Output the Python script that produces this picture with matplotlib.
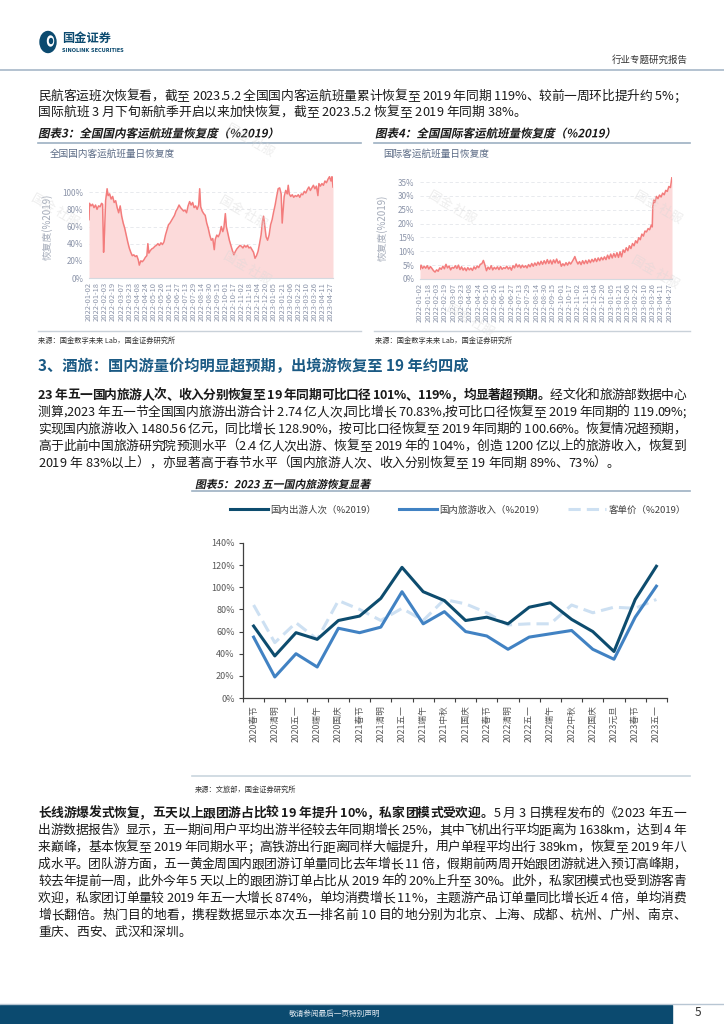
import matplotlib
matplotlib.use('Agg')
import matplotlib.pyplot as plt
import numpy as np
from matplotlib.font_manager import FontProperties
from matplotlib.patches import Rectangle, Ellipse, PathPatch
from matplotlib.textpath import TextPath
from matplotlib.transforms import Affine2D
from matplotlib.lines import Line2D

plt.rcParams['font.family'] = ['Noto Sans CJK SC', 'DejaVu Sans']

# ---------------- data ----------------
# domestic flights, % of 2019 (day offset from 2022-01-02)
dom_day = [0, 1, 4, 7, 10, 13, 16, 19, 22, 25, 27, 29, 31, 33, 36, 38, 41, 44, 47, 50,
           53, 56, 59, 62, 65, 68, 71, 74, 77, 80, 83, 86, 89, 92, 95, 98, 100, 103, 106, 109,
           112, 115, 117, 119, 122, 125, 128, 131, 134, 137, 140, 143, 146, 149, 152, 155, 158, 161, 164, 167,
           170, 173, 176, 179, 182, 185, 188, 191, 194, 197, 200, 203, 206, 209, 212, 215, 218, 220, 222, 225,
           228, 231, 234, 237, 240, 243, 246, 249, 251, 254, 257, 260, 263, 266, 268, 271, 273, 276, 279, 282,
           285, 288, 291, 294, 297, 300, 303, 306, 309, 312, 315, 318, 321, 324, 327, 330, 333, 336, 339, 342,
           345, 347, 349, 352, 355, 358, 361, 364, 367, 370, 373, 376, 379, 382, 384, 386, 388, 391, 394, 396,
           398, 401, 404, 407, 410, 413, 416, 419, 422, 425, 428, 431, 434, 437, 440, 443, 446, 449, 452, 455,
           457, 460, 463, 466, 469, 472, 475, 478, 481, 483, 485]
dom_val = [68, 87, 84, 86, 82, 85, 80, 84, 83, 87, 86, 30, 55, 90, 104, 96, 98, 92, 95, 88,
           90, 82, 76, 84, 72, 64, 58, 50, 42, 35, 30, 26, 27, 25, 26, 21, 15, 20, 19, 21,
           24, 26, 40, 29, 32, 34, 35, 37, 38, 40, 38, 41, 39, 42, 50, 56, 62, 64, 67, 70,
           73, 78, 81, 85, 82, 80, 78, 79, 76, 84, 89, 85, 88, 82, 84, 80, 85, 104, 83, 78,
           75, 73, 64, 58, 50, 44, 46, 33, 45, 50, 48, 52, 60, 54, 58, 75, 60, 52, 44, 38,
           32, 27, 31, 34, 36, 38, 37, 35, 38, 36, 38, 35, 36, 33, 30, 23, 26, 31, 40, 50,
           67, 72, 62, 48, 44, 50, 62, 68, 77, 85, 95, 104, 105, 98, 64, 80, 95, 102, 98, 108,
           98, 95, 97, 94, 96, 95, 97, 94, 98, 97, 101, 99, 103, 106, 102, 105, 108, 104, 107, 96,
           110, 107, 110, 108, 113, 111, 115, 118, 113, 118, 106]

# international flights, % of 2019
intl_day = [0, 2, 5, 8, 11, 14, 17, 20, 23, 26, 29, 32, 35, 38, 41, 44, 47, 50, 53, 56,
            59, 62, 65, 68, 71, 74, 77, 80, 83, 86, 89, 92, 95, 98, 101, 104, 107, 110, 113, 116,
            119, 122, 125, 128, 131, 134, 137, 140, 143, 146, 149, 152, 155, 158, 161, 164, 167, 170, 173, 176,
            179, 182, 185, 188, 191, 194, 197, 200, 203, 206, 209, 212, 215, 218, 221, 224, 227, 230, 233, 236,
            239, 242, 245, 248, 251, 254, 257, 260, 263, 266, 269, 272, 275, 278, 281, 284, 287, 290, 293, 296,
            298, 301, 304, 307, 310, 313, 316, 319, 322, 325, 328, 331, 334, 337, 340, 343, 346, 349, 352, 355,
            358, 361, 364, 367, 370, 373, 376, 379, 382, 385, 388, 391, 394, 397, 400, 403, 406, 409, 412, 415,
            418, 421, 424, 427, 430, 433, 436, 439, 442, 445, 447, 448, 450, 452, 455, 458, 461, 464, 467, 470,
            473, 476, 479, 482, 485]
intl_val = [3.5, 5.0, 3.8, 4.6, 3.9, 4.8, 3.6, 4.5, 3.8, 3.0, 2.5, 3.3, 2.8, 4.0, 3.5, 4.6, 3.7, 5.3, 4.0, 4.7,
            3.3, 4.2, 3.9, 4.8, 3.8, 5.0, 3.4, 4.4, 3.2, 4.0, 3.0, 4.1, 3.3, 3.9, 3.1, 4.4, 3.6, 4.7, 4.1, 5.3,
            5.5, 6.7, 5.0, 3.0, 4.3, 3.5, 4.8, 3.3, 4.2, 3.6, 4.4, 3.4, 4.5, 3.5, 4.1, 3.8, 4.6, 3.6, 4.3, 3.2,
            4.8, 4.0, 5.4, 4.3, 5.1, 4.0, 5.0, 4.2, 4.8, 4.0, 5.2, 4.4, 5.6, 4.6, 5.8, 4.9, 6.1, 5.1, 6.4, 5.3,
            6.6, 5.5, 7.0, 5.6, 6.8, 5.4, 6.9, 5.8, 7.2, 5.7, 6.5, 4.6, 5.5, 4.8, 5.9, 5.0, 6.1, 5.4, 6.3, 7.3,
            8.1, 6.5, 5.4, 6.3, 5.2, 6.6, 5.5, 6.7, 5.6, 6.9, 5.9, 7.1, 6.2, 7.4, 6.3, 7.6, 6.6, 7.8, 6.9, 8.0,
            7.0, 8.6, 7.3, 9.0, 7.6, 9.2, 7.9, 9.5, 7.8, 9.8, 8.0, 10.5, 9.6, 11.3, 10.2, 12.0, 11.0, 12.8, 12.0, 13.8,
            13.0, 14.9, 14.2, 16.2, 15.5, 17.3, 17.0, 18.2, 17.8, 19.4, 18.8, 26.0, 28.5, 27.6, 29.8, 29.0, 30.3, 29.6, 31.0, 30.4,
            32.0, 31.6, 33.4, 33.0, 37.0]

date_ticks = ['2022-01-02', '2022-01-18', '2022-02-03', '2022-02-19', '2022-03-07', '2022-03-23',
              '2022-04-08', '2022-04-24', '2022-05-10', '2022-05-26', '2022-06-11', '2022-06-27',
              '2022-07-13', '2022-07-29', '2022-08-14', '2022-08-30', '2022-09-15', '2022-10-01',
              '2022-10-17', '2022-11-02', '2022-11-18', '2022-12-04', '2022-12-20', '2023-01-05',
              '2023-01-21', '2023-02-06', '2023-02-22', '2023-03-10', '2023-03-26', '2023-04-11',
              '2023-04-27']
date_tick_day = list(range(0, 481, 16))

holidays = ['2020春节', '2020清明', '2020五一', '2020端午', '2020国庆', '2021春节', '2021清明',
            '2021五一', '2021端午', '2021中秋', '2021国庆', '2022春节', '2022清明', '2022五一',
            '2022端午', '2022中秋', '2022国庆', '2023元旦', '2023春节', '2023五一']
trips = [65, 38, 59, 53, 70, 74, 90, 118, 96, 88, 70, 73, 67, 82, 86, 71, 60, 42, 89, 119]
revenue = [55, 19, 40, 28, 63, 59, 64, 96, 67, 78, 60, 56, 44, 55, 58, 61, 44, 35, 73, 101]
per_capita = [84, 50, 68, 53, 88, 80, 70, 81, 70, 89, 85, 77, 66, 67, 67, 84, 77, 82, 81, 89]

# ---------------- page ----------------
W, H = 724, 1024
fig = plt.figure(figsize=(W / 100, H / 100), dpi=100)
rend = fig.canvas.get_renderer()


def fx(x):
    return x / W


def fy(y):
    return 1 - y / H


def hline(x0, x1, y, color, lw=1.0):
    fig.add_artist(Line2D([fx(x0), fx(x1)], [fy(y), fy(y)], transform=fig.transFigure,
                          color=color, lw=lw))


_cache = {}


def adv(c, size, bold):
    key = (c, size, bold)
    if key not in _cache:
        fp = FontProperties(family=['Noto Sans CJK SC', 'DejaVu Sans'], size=size,
                            weight='bold' if bold else 'normal')
        w1 = rend.get_text_width_height_descent('国' + c + '国', fp, ismath=False)[0]
        w0 = rend.get_text_width_height_descent('国国', fp, ismath=False)[0]
        _cache[key] = w1 - w0
    return _cache[key]


def text_line(x0, x1, yc, segs, size=9.2, color='#1a1a1a', justify=True):
    chars = [(c, b) for s, b in segs for c in s]
    ws = [adv(c, size, b) for c, b in chars]
    gap = 0
    if justify and len(chars) > 1:
        gap = (x1 - x0 - sum(ws)) / (len(chars) - 1)
    em = size * 100 / 72
    yb = yc + 0.38 * em
    x = x0
    for (c, b), w in zip(chars, ws):
        if c != ' ':
            fig.text(fx(x), fy(yb), c, fontsize=size, color=color,
                     fontweight='bold' if b else 'normal', ha='left', va='baseline')
        x += w + gap


def slanted(x, yc, s, size, color='#1a1a1a'):
    fp = FontProperties(family='Noto Sans CJK SC', weight='bold')
    em = size * 100 / 72
    tp = TextPath((0, 0), s, size=em, prop=fp)
    tr = Affine2D().skew_deg(12, 0).translate(x, H - (yc + 0.38 * em))
    fig.add_artist(PathPatch(tp, transform=tr, facecolor=color, lw=0))


L, R = 38, 686

# header
fig.add_artist(Ellipse((fx(48), fy(42)), 16 / W, 21 / H, transform=fig.transFigure, color='#0b4a6f'))
fig.add_artist(Ellipse((fx(50.5), fy(41)), 6 / W, 10 / H, transform=fig.transFigure, color='white'))
fig.add_artist(Ellipse((fx(51), fy(41)), 3 / W, 5 / H, transform=fig.transFigure, color='#0b4a6f'))
fig.text(fx(62), fy(38), '国金证券', fontsize=8.8, fontweight='bold', color='#0b4a6f', va='center')
fig.text(fx(62), fy(50), 'SINOLINK SECURITIES', fontsize=3.6, fontweight='bold', color='#0b4a6f',
         va='center', family='DejaVu Sans')
fig.text(fx(688), fy(60), '行业专题研究报告', fontsize=6.8, color='#333333', ha='right', va='center')
hline(0, W, 70, '#a7b8c8', 1.2)

text_line(L, R, 95, [('民航客运班次恢复看，截至 2023.5.2 全国国内客运航班量累计恢复至 2019 年同期 119%、较前一周环比提升约 5%；', False)])
text_line(L, R, 111, [('国际航班 3 月下旬新航季开启以来加快恢复，截至 2023.5.2 恢复至 2019 年同期 38%。', False)], justify=False)

# chart 3 / 4 frames
slanted(L, 133, '图表3：全国国内客运航班量恢复度（%2019）', 8.3)
slanted(375, 133, '图表4：全国国际客运航班量恢复度（%2019）', 8.3)
hline(38, 361, 143, '#9db0c2', 1.2)
hline(374, 690, 143, '#9db0c2', 1.2)
hline(38, 361, 331, '#c9d1d9', 1.0)
hline(374, 690, 331, '#c9d1d9', 1.0)
fig.text(fx(50), fy(154), '全国国内客运航班量日恢复度', fontsize=6.9, color='#5b6b85', va='center')
fig.text(fx(383), fy(154), '国际客运航班量日恢复度', fontsize=6.9, color='#5b6b85', va='center')
fig.text(fx(L), fy(341), '来源：国金数字未来 Lab，国金证券研究所', fontsize=5.2, color='#333333', va='center')
fig.text(fx(375), fy(341), '来源：国金数字未来 Lab，国金证券研究所', fontsize=5.2, color='#333333', va='center')


def flight_chart(ax, days, vals, yticks, ymax, labx):
    ax.fill_between(days, vals, 0, color='#fcdada', lw=0)
    ax.plot(days, vals, color='#f37c7c', lw=1.1)
    ax.set_xlim(0, 485)
    ax.set_ylim(0, ymax)
    ax.set_yticks(yticks)
    ax.set_yticklabels([f'{t}%' for t in yticks], fontsize=5.8, color='#8a93a8')
    ax.set_xticks(date_tick_day)
    ax.set_xticklabels(date_ticks, rotation=90, fontsize=5.4, color='#8a93a8')
    ax.tick_params(length=0)
    ax.tick_params(axis='y', pad=4)
    ax.tick_params(axis='x', pad=3)
    for s in ['top', 'right', 'left']:
        ax.spines[s].set_visible(False)
    ax.spines['bottom'].set_color('#d5d9df')
    ax.grid(axis='y', color='#e4e7eb', lw=0.6, ls=(0, (4, 3)))
    ax.set_axisbelow(True)
    ax.set_facecolor('none')
    ax.set_ylabel('恢复度(%2019)', fontsize=7, color='#a3aab8')
    ax.yaxis.set_label_coords(labx, 0.5)


ax3 = fig.add_axes([fx(89), fy(278), 244 / W, 103 / H])
flight_chart(ax3, dom_day, dom_val, [0, 20, 40, 60, 80, 100], 120, -0.148)
ax4 = fig.add_axes([fx(420), fy(279), 252 / W, 102.5 / H])
flight_chart(ax4, intl_day, intl_val, [0, 5, 10, 15, 20, 25, 30, 35], 37, -0.127)

# watermarks
for wx, wy in [(250, 140), (243, 212), (247, 268), (55, 210), (452, 207), (658, 207), (655, 272), (470, 320)]:
    fig.text(fx(wx), fy(wy), '国金 社服', fontsize=9, color='#d9d9d9', alpha=0.45,
             rotation=-30, ha='center', va='center')

# section 3
fig.text(fx(L), fy(366), '3、酒旅：国内游量价均明显超预期，出境游恢复至 19 年约四成', fontsize=11,
         fontweight='bold', color='#1b5a84', va='center')
text_line(L, R, 394, [('23 年五一国内旅游人次、收入分别恢复至 19 年同期可比口径 101%、119%，均显著超预期。', True),
                      ('经文化和旅游部数据中心', False)])
text_line(L, R, 411, [('测算,2023 年五一节全国国内旅游出游合计 2.74 亿人次,同比增长 70.83%,按可比口径恢复至 2019 年同期的 119.09%;', False)])
text_line(L, R, 428, [('实现国内旅游收入 1480.56 亿元，同比增长 128.90%，按可比口径恢复至 2019 年同期的 100.66%。恢复情况超预期，', False)])
text_line(L, R, 445, [('高于此前中国旅游研究院预测水平（2.4 亿人次出游、恢复至 2019 年的 104%，创造 1200 亿以上的旅游收入，恢复到', False)])
text_line(L, R, 462, [('2019 年 83%以上），亦显著高于春节水平（国内旅游人次、收入分别恢复至 19 年同期 89%、73%）。', False)], justify=False)

# chart 5
slanted(195, 484, '图表5：2023 五一国内旅游恢复显著', 7.8)
hline(192, 690, 491, '#9db0c2', 1.2)
hline(192, 690, 776, '#c9d6de', 1.2)
fig.text(fx(195), fy(790), '来源：文旅部，国金证券研究所', fontsize=5.2, color='#333333', va='center')

ax5 = fig.add_axes([fx(243), fy(698), 424 / W, 155 / H])
xi = np.arange(len(holidays))
l3, = ax5.plot(xi, per_capita, color='#cde0f2', lw=2.2, ls=(0, (4, 2)), zorder=1, label='客单价（%2019）')
l1, = ax5.plot(xi, trips, color='#0d4c6e', lw=2.2, zorder=3, label='国内出游人次（%2019）')
l2, = ax5.plot(xi, revenue, color='#4182c3', lw=2.2, zorder=2, label='国内旅游收入（%2019）')
ax5.set_xlim(-0.5, len(holidays) - 0.5)
ax5.set_ylim(0, 140)
ax5.set_yticks(range(0, 141, 20))
ax5.set_yticklabels([f'{v}%' for v in range(0, 141, 20)], fontsize=6.5, color='#595959')
ax5.set_xticks(xi)
ax5.set_xticklabels(holidays, rotation=90, fontsize=6.3, color='#595959')
ax5.set_xticks(np.arange(-0.5, len(holidays), 1), minor=True)
ax5.tick_params(axis='x', which='major', length=0, pad=5)
ax5.tick_params(axis='x', which='minor', length=3, width=0.8, color='#404040', direction='out')
ax5.tick_params(axis='y', length=3, width=0.8, color='#404040', pad=3)
for s in ['top', 'right']:
    ax5.spines[s].set_visible(False)
for s in ['left', 'bottom']:
    ax5.spines[s].set_color('#404040')
    ax5.spines[s].set_linewidth(0.9)
ax5.legend(handles=[l1, l2, l3], ncol=3, loc='center', bbox_to_anchor=(fx(458), fy(510)),
           bbox_transform=fig.transFigure, frameon=False, fontsize=6.8, handlelength=4.0,
           columnspacing=2.4, handletextpad=0.3, labelcolor='#404040')

# paragraph 2
p2 = [
    [('长线游爆发式恢复，五天以上跟团游占比较 19 年提升 10%，私家团模式受欢迎。', True), ('5 月 3 日携程发布的《2023 年五一', False)],
    [('出游数据报告》显示，五一期间用户平均出游半径较去年同期增长 25%，其中飞机出行平均距离为 1638km，达到 4 年', False)],
    [('来巅峰，基本恢复至 2019 年同期水平；高铁游出行距离同样大幅提升，用户单程平均出行 389km，恢复至 2019 年八', False)],
    [('成水平。团队游方面，五一黄金周国内跟团游订单量同比去年增长 11 倍，假期前两周开始跟团游就进入预订高峰期，', False)],
    [('较去年提前一周，此外今年 5 天以上的跟团游订单占比从 2019 年的 20%上升至 30%。此外，私家团模式也受到游客青', False)],
    [('欢迎，私家团订单量较 2019 年五一大增长 874%，单均消费增长 11%，主题游产品订单量同比增长近 4 倍，单均消费', False)],
    [('增长翻倍。热门目的地看，携程数据显示本次五一排名前 10 目的地分别为北京、上海、成都、杭州、广州、南京、', False)],
    [('重庆、西安、武汉和深圳。', False)],
]
for i, segs in enumerate(p2):
    text_line(L, R, 812 + 17 * i, segs, justify=(i < len(p2) - 1))

# footer
hline(0, W, 1004, '#b8c6d3', 1.0)
fig.add_artist(Rectangle((0, 0), fx(672), 19 / H, transform=fig.transFigure, color='#0b4a6f'))
fig.text(fx(335), fy(1014), '敬请参阅最后一页特别声明', fontsize=5.5, color='#dfe8ef', ha='center', va='center')
fig.text(fx(698), fy(1013), '5', fontsize=8.5, color='#333333', ha='center', va='center')

fig.savefig('out.png', dpi=100)
